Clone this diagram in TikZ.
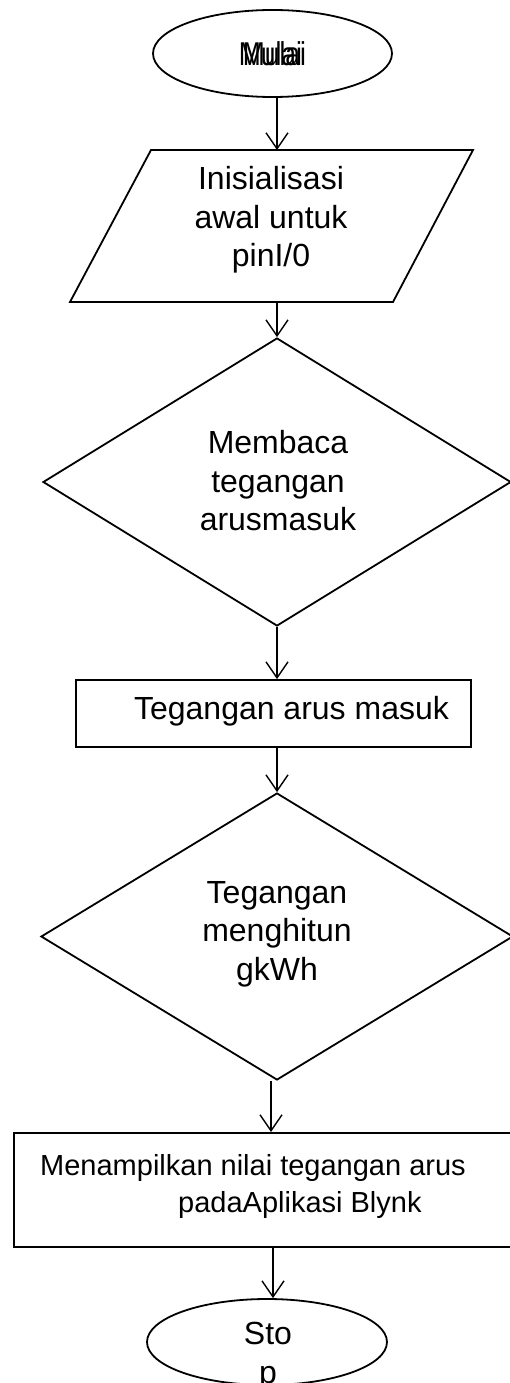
\documentclass[tikz,border=0pt]{standalone}
\usepackage{fontspec}
\setmainfont{Liberation Sans}
\usetikzlibrary{shapes.geometric,arrows.meta}
\tikzset{
  shapeline/.style={draw=black, line width=1.8pt},
  term/.style={shapeline, ellipse, inner sep=0pt},
  procbox/.style={shapeline, rectangle, inner sep=0pt},
  decide/.style={shapeline, diamond, inner sep=0pt},
  txt/.style={font=\fontsize{32}{38.5}\selectfont, align=center, inner sep=0pt},
  arr/.style={line width=1.4pt, -{Straight Barb[length=16pt,width=22pt,line width=1.4pt]}},
}
\begin{document}
\begin{tikzpicture}[x=1pt,y=-1pt]
\useasboundingbox (0,0) rectangle (510,1383);
\clip (0,0) rectangle (510,1383);
% start terminal
\node[term, minimum width=239pt, minimum height=87pt] (mulai) at (272.5,53.5) {};
\node[font=\fontsize{33}{38}\selectfont, inner sep=0pt] (mulaitxt) at (mulai.center)
  {\scalebox{0.8}[1]{\rlap{Mulai}\hspace*{5pt}Mulai}};
% parallelogram
\coordinate (ptl) at (151,150);
\coordinate (ptr) at (473,150);
\coordinate (pbr) at (393,302);
\coordinate (pbl) at (70,302);
\coordinate (ptop) at (277,150);
\coordinate (pbot) at (277,302);
\draw[shapeline, line join=miter] (ptl) -- (ptr) -- (pbr) -- (pbl) -- cycle;
\node[txt] (init) at (271,220) {Inisialisasi\\awal untuk\\pinI/0};
% decision 1
\node[decide, minimum width=468pt, minimum height=288pt] (baca) at (277,482) {};
\node[txt] (bacatxt) at (278,481) {Membaca\\tegangan\\arusmasuk};
% process 1
\node[procbox, minimum width=395pt, minimum height=67pt] (tegangan) at (273.5,713.5) {};
\node[txt] (tegtxt) at (291.5,711) {Tegangan arus masuk};
% decision 2
\node[decide, minimum width=472pt, minimum height=287pt] (hitung) at (277,936.5) {};
\node[txt] (hitungtxt) at (277,934) {Tegangan\\menghitun\\gkWh};
% process 2
\node[procbox, minimum width=505pt, minimum height=114pt, anchor=north west] (tampil) at (13,1132) {};
\node[txt, font=\fontsize{29}{37}\selectfont, align=left, anchor=north west] (tampiltxt) at (40,1154)
  {Menampilkan nilai tegangan arus\\\hspace*{138pt}padaAplikasi Blynk};
% stop terminal
\node[term, minimum width=240pt, minimum height=86pt] (stop) at (267,1342) {};
\node[txt, anchor=north] (stoptxt) at (268,1322) {Sto\\p};
% connectors
\draw[arr] (mulai.south -| ptop) -- (ptop);
\draw[arr] (pbot) -- (baca.north);
\draw[arr] (baca.south) -- (baca.south |- tegangan.north);
\draw[arr] (tegangan.south -| hitung.north) -- (hitung.north);
\draw[arr] ([xshift=-6pt]hitung.south) -- ([xshift=-6pt]hitung.south |- tampil.north);
\draw[arr] (tampil.south -| 273,0) -- (stop.north -| 273,0);
\end{tikzpicture}
\end{document}
